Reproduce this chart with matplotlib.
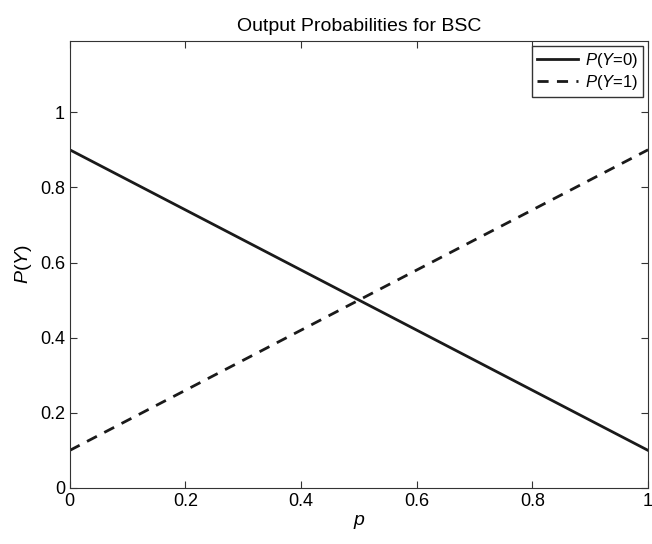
import matplotlib
matplotlib.use("Agg")
import matplotlib.pyplot as plt

plt.rcParams['font.family'] = ['Liberation Sans', 'DejaVu Sans']
plt.rcParams['mathtext.fontset'] = 'custom'
plt.rcParams['mathtext.rm'] = 'Liberation Sans'
plt.rcParams['mathtext.it'] = 'Liberation Sans:italic'

# data
p = [0, 1]
py0 = [0.9, 0.1]
py1 = [0.1, 0.9]
xticks = [0, 0.2, 0.4, 0.6, 0.8, 1]
yticks = [0, 0.2, 0.4, 0.6, 0.8, 1]

fig = plt.figure(figsize=(6.52, 5.44), dpi=100)
ax = fig.add_axes([0.107, 0.103, 0.887, 0.822])
ax.plot(p, py0, color='#1a1a1a', lw=2, ls='-', label=r'$P(Y$=0)')
ax.plot(p, py1, color='#1a1a1a', lw=2, ls='--', dashes=(4, 3), label=r'$P(Y$=1)')
ax.set_xlim(0, 1)
ax.set_ylim(0, 1.19)
ax.set_xticks(xticks)
ax.set_xticklabels(['0', '0.2', '0.4', '0.6', '0.8', '1'])
ax.set_yticks(yticks)
ax.set_yticklabels(['0', '0.2', '0.4', '0.6', '0.8', '1'])
ax.tick_params(direction='in', top=True, right=True, labelsize=13, color='#333333', length=5)
for s in ax.spines.values():
    s.set_color('#333333')
ax.set_title('Output Probabilities for BSC', fontsize=14, pad=7)
ax.set_xlabel(r'$p$', fontsize=14, labelpad=2)
ax.set_ylabel(r'$P(Y)$', fontsize=14, labelpad=4)
leg = ax.legend(loc='upper right', fontsize=12, fancybox=False, framealpha=1,
                edgecolor='#333333', borderaxespad=0.3, handlelength=2.5,
                handletextpad=0.4, borderpad=0.3, labelspacing=0.2)
leg.get_frame().set_linewidth(1)
fig.savefig('out.png', dpi=100)
